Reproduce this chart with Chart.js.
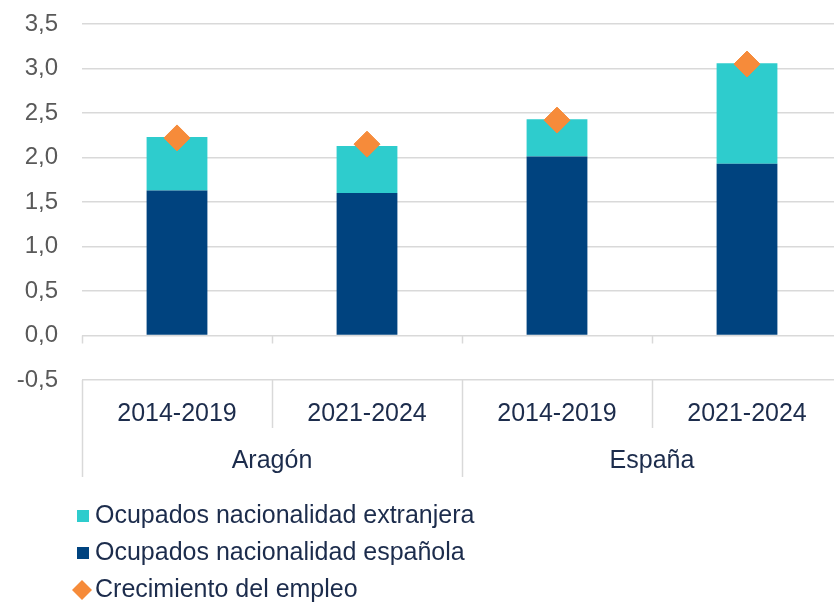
<!DOCTYPE html>
<html lang="es">
<head>
<meta charset="UTF-8">
<title>Crecimiento del empleo</title>
<script src="https://cdn.jsdelivr.net/npm/chart.js"></script>
<style>
  html, body { margin: 0; padding: 0; background: #fff; }
  #wrap { width: 834px; height: 602px; overflow: hidden; }
</style>
</head>
<body>
<div id="wrap"><canvas id="empleoChart" width="842" height="602"></canvas></div>

<script>
    // datos
    const periodos = ['2014-2019', '2021-2024', '2014-2019', '2021-2024'];
    const regiones = ['Aragón', 'España'];
    const espanola = [1.63, 1.60, 2.01, 1.93];
    const extranjera = [0.60, 0.53, 0.42, 1.13];
    const crecimiento = [2.22, 2.15, 2.42, 3.05];

    const grisLinea = '#d9d9d9';
    const textoOscuro = '#1c2c4c';
    const fuente = "'Liberation Sans', Arial, sans-serif";

    // etiquetas de grupo, separadores y leyenda
    const extras = {
        id: 'extras',
        afterDraw(chart) {
            const ctx = chart.ctx;
            const x = chart.scales.x;
            const y = chart.scales.y;
            const ancho = (x.right - x.left) / periodos.length;
            const y0 = y.getPixelForValue(0);
            const yBase = chart.chartArea.bottom;

            ctx.save();
            ctx.strokeStyle = grisLinea;
            ctx.lineWidth = 1.5;
            for (let i = 0; i <= periodos.length; i++) {
                const px = Math.round(x.left + i * ancho) + 0.5;
                // marcas cortas en el eje 0
                ctx.beginPath();
                ctx.moveTo(px, y0);
                ctx.lineTo(px, y0 + 8);
                ctx.stroke();
                // separadores bajo el eje
                ctx.beginPath();
                ctx.moveTo(px, yBase);
                ctx.lineTo(px, i % 2 === 0 ? yBase + 97 : yBase + 48);
                ctx.stroke();
            }

            ctx.fillStyle = textoOscuro;
            ctx.font = '25px ' + fuente;
            ctx.textAlign = 'center';
            ctx.textBaseline = 'middle';
            regiones.forEach((r, i) => {
                ctx.fillText(r, x.left + ancho * (2 * i + 1), yBase + 81);
            });

            // leyenda
            const items = [
                { ds: chart.data.datasets[1], tipo: 'cuadro' },
                { ds: chart.data.datasets[0], tipo: 'cuadro' },
                { ds: chart.data.datasets[2], tipo: 'rombo' }
            ];
            ctx.textAlign = 'left';
            items.forEach((it, i) => {
                const cy = 516 + i * 37;
                ctx.fillStyle = it.ds.backgroundColor;
                if (it.tipo === 'cuadro') {
                    ctx.fillRect(77, cy - 6, 12, 12);
                } else {
                    ctx.beginPath();
                    ctx.moveTo(82, cy - 10);
                    ctx.lineTo(92, cy);
                    ctx.lineTo(82, cy + 10);
                    ctx.lineTo(72, cy);
                    ctx.closePath();
                    ctx.fill();
                }
                ctx.fillStyle = textoOscuro;
                ctx.fillText(it.ds.label, 95, cy);
            });
            ctx.restore();
        }
    };

    const ctx = document.getElementById('empleoChart').getContext('2d');
    new Chart(ctx, {
        data: {
            labels: periodos,
            datasets: [
                {
                    type: 'bar',
                    label: 'Ocupados nacionalidad española',
                    data: espanola,
                    backgroundColor: '#00437f',
                    stack: 'ocupados',
                    order: 1,
                    categoryPercentage: 1,
                    barPercentage: 0.32
                },
                {
                    type: 'bar',
                    label: 'Ocupados nacionalidad extranjera',
                    data: extranjera,
                    backgroundColor: '#2ecccd',
                    stack: 'ocupados',
                    order: 1,
                    categoryPercentage: 1,
                    barPercentage: 0.32
                },
                {
                    type: 'line',
                    label: 'Crecimiento del empleo',
                    data: crecimiento,
                    showLine: false,
                    backgroundColor: '#f68b3a',
                    borderColor: '#f68b3a',
                    pointStyle: 'rectRot',
                    pointRadius: 13,
                    pointHoverRadius: 13,
                    pointBorderWidth: 1,
                    stack: 'crecimiento',
                    order: 0
                }
            ]
        },
        options: {
            responsive: false,
            animation: false,
            layout: { autoPadding: false, padding: { top: 24, left: 0, right: 0, bottom: 0 } },
            plugins: {
                legend: { display: false },
                tooltip: { enabled: false }
            },
            scales: {
                x: {
                    stacked: true,
                    offset: true,
                    grid: { display: false },
                    border: { display: false },
                    ticks: {
                        color: textoOscuro,
                        font: { family: fuente, size: 25 },
                        padding: 11,
                        maxRotation: 0
                    },
                    afterFit(scale) { scale.height = 222; }
                },
                y: {
                    stacked: true,
                    min: -0.5,
                    max: 3.5,
                    ticks: {
                        stepSize: 0.5,
                        color: '#595959',
                        font: { family: fuente, size: 24 },
                        padding: 24,
                        callback: v => v.toFixed(1).replace('.', ',')
                    },
                    grid: { color: grisLinea, lineWidth: 1.5, drawTicks: false },
                    border: { display: false },
                    afterFit(scale) {
                        scale.width = 82;
                        scale.paddingTop = 0;
                        scale.paddingBottom = 0;
                    }
                }
            }
        },
        plugins: [extras]
    });
</script>
</body>
</html>
